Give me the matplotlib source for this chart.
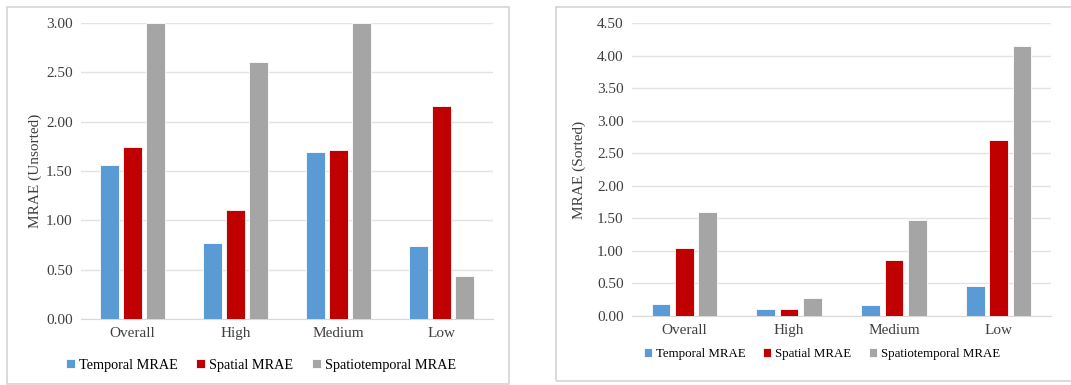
import numpy as np
import matplotlib.pyplot as plt
from matplotlib.patches import Rectangle

plt.rcParams['font.family'] = ['Liberation Serif', 'DejaVu Serif']

categories = ['Overall', 'High', 'Medium', 'Low']
series_names = ['Temporal MRAE', 'Spatial MRAE', 'Spatiotemporal MRAE']
colors = ['#5B9BD5', '#C00000', '#A5A5A5']

# left panel (unsorted)
unsorted_temporal = [1.56, 0.77, 1.69, 0.74]
unsorted_spatial = [1.74, 1.10, 1.71, 2.16]
unsorted_st = [3.00, 2.60, 3.00, 0.44]

# right panel (sorted)
sorted_temporal = [0.18, 0.10, 0.17, 0.46]
sorted_spatial = [1.05, 0.10, 0.86, 2.70]
sorted_st = [1.59, 0.28, 1.48, 4.14]

W, H = 1071, 385
fig = plt.figure(figsize=(W / 100, H / 100), dpi=100)

# panel borders
fig.patches.append(Rectangle((7 / W, 1 - 384 / H), 502 / W, 377 / H,
                             transform=fig.transFigure, fill=False,
                             edgecolor='#D4D4D4', linewidth=1.2))
fig.patches.append(Rectangle((556 / W, 1 - 381 / H), 520 / W, 374 / H,
                             transform=fig.transFigure, fill=False,
                             edgecolor='#D4D4D4', linewidth=1.2))


def draw_panel(ax, data, ymax, ylabel, fs_tick, fs_leg, leg_xy, labelpad, colsp):
    x = np.arange(len(categories))
    step = 0.223
    width = 0.178
    handles = []
    for i, (vals, name, c) in enumerate(zip(data, series_names, colors)):
        h = ax.bar(x + (i - 1) * step, vals, width, color=c, label=name,
                   edgecolor='white', linewidth=0.6, zorder=3)
        handles.append(h)
    ax.set_xlim(-0.5, len(categories) - 0.5)
    ax.set_ylim(0, ymax)
    ax.set_yticks(np.arange(0, ymax + 0.01, 0.5))
    ax.set_yticklabels([f'{v:.2f}' for v in np.arange(0, ymax + 0.01, 0.5)],
                       fontsize=fs_tick, color='#404040')
    ax.set_xticks(x)
    ax.set_xticklabels(categories, fontsize=fs_tick, color='#404040')
    ax.tick_params(length=0, pad=6)
    ax.grid(axis='y', color='#E3E3E3', linewidth=1, zorder=0)
    for s in ['top', 'right', 'left']:
        ax.spines[s].set_visible(False)
    ax.spines['bottom'].set_color('#D9D9D9')
    ax.set_ylabel(ylabel, fontsize=fs_tick, color='#404040', labelpad=labelpad)
    ax.legend(handles=handles, loc='center',
              bbox_to_anchor=(leg_xy[0] / W, 1 - leg_xy[1] / H),
              bbox_transform=fig.transFigure,
              ncol=3, frameon=False, fontsize=fs_leg, handlelength=0.6,
              handleheight=0.6, handletextpad=0.3, columnspacing=colsp)


ax1 = fig.add_axes([81 / W, 1 - 319 / H, 412 / W, 296 / H])
draw_panel(ax1, [unsorted_temporal, unsorted_spatial, unsorted_st], 3.0,
           'MRAE (Unsorted)', 11, 10.3, (261, 365), 3, 1.3)

ax2 = fig.add_axes([632 / W, 1 - 316 / H, 419 / W, 293 / H])
draw_panel(ax2, [sorted_temporal, sorted_spatial, sorted_st], 4.5,
           'MRAE (Sorted)', 11, 9.3, (822, 354), 8, 1.4)

fig.savefig('out.png', dpi=100)
